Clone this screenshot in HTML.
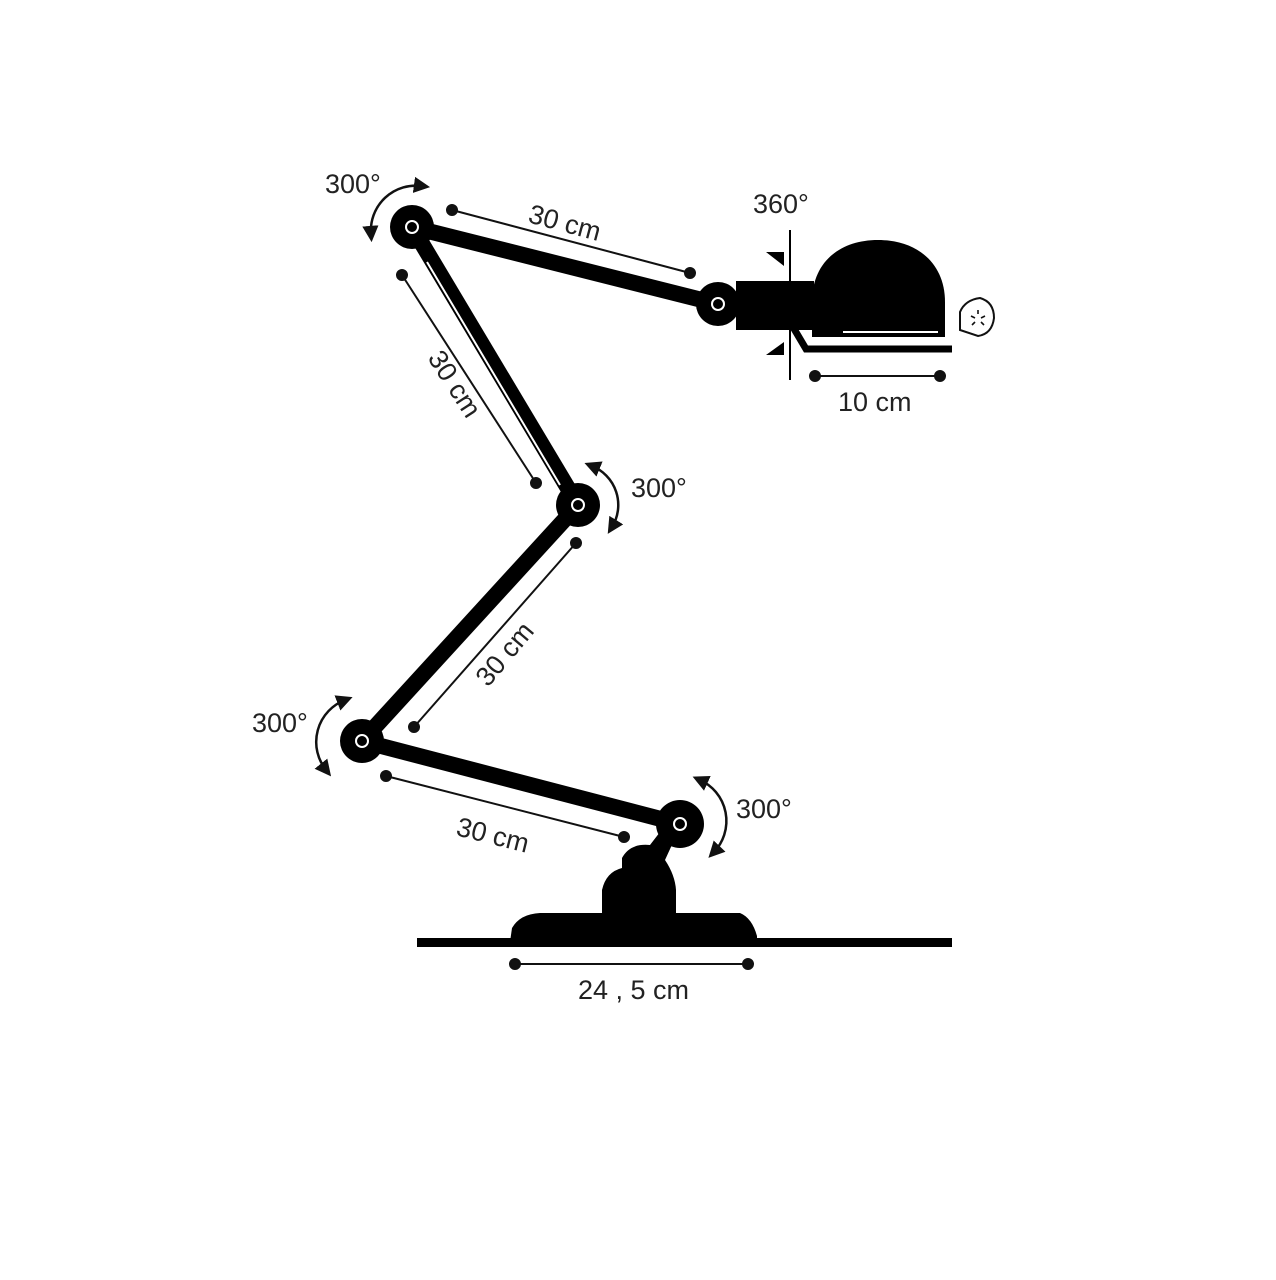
<!DOCTYPE html>
<html><head><meta charset="utf-8"><style>
html,body{margin:0;padding:0;background:#fff;}
svg{display:block}
text{font-family:"Liberation Sans Narrow","Liberation Sans",sans-serif;font-size:27px;fill:#222;}
</style></head><body>
<svg width="1276" height="1280" viewBox="0 0 1276 1280" xmlns="http://www.w3.org/2000/svg">
<defs>
<marker id="ah" viewBox="0 0 10 10" refX="5" refY="5" markerWidth="6.5" markerHeight="6.5" orient="auto-start-reverse"><path d="M0,0 L10,5 L0,10 z" fill="#111"/></marker>
</defs>
<g stroke="#000" stroke-linecap="butt" fill="none">
<line x1="412" y1="227" x2="718" y2="304" stroke-width="16"/>
<line x1="412" y1="227" x2="578" y2="505" stroke-width="16"/>
<line x1="578" y1="505" x2="362" y2="741" stroke-width="16"/>
<line x1="362" y1="741" x2="680" y2="824" stroke-width="16"/>
<line x1="427" y1="262" x2="560" y2="485" stroke="#fff" stroke-width="2"/>
</g>
<g fill="#000">
<circle cx="412" cy="227" r="22"/>
<circle cx="718" cy="304" r="22"/>
<circle cx="578" cy="505" r="22"/>
<circle cx="362" cy="741" r="22"/>
<circle cx="680" cy="824" r="24"/>
<rect x="736" y="281" width="78" height="49"/>
<path d="M812,337 L812,302 C812,262 840,240 878,240 C918,240 945,264 945,302 L945,337 Z"/>
<polygon points="766,252 784,252 784,266"/>
<polygon points="766,355 784,355 784,342"/>
<rect x="417" y="938" width="535" height="9"/>
<path d="M510,942 L512,928 Q520,914 540,913 L740,913 Q752,918 757,936 L757,942 Z"/>
<path d="M602,920 L602,890 Q606,872 622,868 L622,858 Q630,843 650,845 L660,832 L676,836 L665,860 Q675,875 676,890 L676,920 Z"/>
</g>
<g stroke="#fff" stroke-width="2" fill="none">
<circle cx="412" cy="227" r="6"/>
<circle cx="718" cy="304" r="6"/>
<circle cx="578" cy="505" r="6"/>
<circle cx="362" cy="741" r="6"/>
<circle cx="680" cy="824" r="6"/>
<line x1="843" y1="332" x2="938" y2="332"/>
<path d="M924,252 Q940,262 947,283" stroke-width="1.5"/>
</g>
<g stroke="#000" fill="none">
<line x1="790" y1="230" x2="790" y2="380" stroke-width="2"/>
<polyline points="790,322 806,349 952,349" stroke-width="7"/>
</g>
<path d="M960,330 L960,312 Q965,300 980,298 Q994,302 994,318 Q992,334 978,336 Z" fill="#fff" stroke="#111" stroke-width="2"/>
<g stroke="#111" stroke-width="1.6"><line x1="978" y1="310" x2="978" y2="314"/><line x1="971" y1="316" x2="975" y2="318"/><line x1="985" y1="316" x2="981" y2="318"/><line x1="972" y1="325" x2="975" y2="322"/><line x1="984" y1="325" x2="981" y2="322"/></g>
<g stroke="#111" stroke-width="2" fill="#111">
<line x1="452" y1="210" x2="690" y2="273"/><circle cx="452" cy="210" r="5"/><circle cx="690" cy="273" r="5"/>
<line x1="402" y1="275" x2="536" y2="483"/><circle cx="402" cy="275" r="5"/><circle cx="536" cy="483" r="5"/>
<line x1="576" y1="543" x2="414" y2="727"/><circle cx="576" cy="543" r="5"/><circle cx="414" cy="727" r="5"/>
<line x1="386" y1="776" x2="624" y2="837"/><circle cx="386" cy="776" r="5"/><circle cx="624" cy="837" r="5"/>
<line x1="515" y1="964" x2="748" y2="964"/><circle cx="515" cy="964" r="5"/><circle cx="748" cy="964" r="5"/>
<line x1="815" y1="376" x2="940" y2="376"/><circle cx="815" cy="376" r="5"/><circle cx="940" cy="376" r="5"/>
</g>
<g stroke="#111" stroke-width="2.5" fill="none" marker-start="url(#ah)" marker-end="url(#ah)">
<path d="M422,186 A45,45 0 0 0 371,234"/>
<path d="M592,466 A42,42 0 0 1 612,527"/>
<path d="M345,700 A45,45 0 0 0 326,770"/>
<path d="M700,780 A45,45 0 0 1 714,852"/>
</g>
<text x="325" y="193">300°</text>
<text x="753" y="213">360°</text>
<text x="631" y="497">300°</text>
<text x="252" y="732">300°</text>
<text x="736" y="818">300°</text>
<text x="838" y="411">10 cm</text>
<text x="578" y="999">24 , 5 cm</text>
<text transform="translate(527,222) rotate(15)">30 cm</text>
<text transform="translate(427,358) rotate(57)">30 cm</text>
<text transform="translate(488,688) rotate(-50)">30 cm</text>
<text transform="translate(455,835) rotate(14)">30 cm</text>
</svg>
</body></html>
